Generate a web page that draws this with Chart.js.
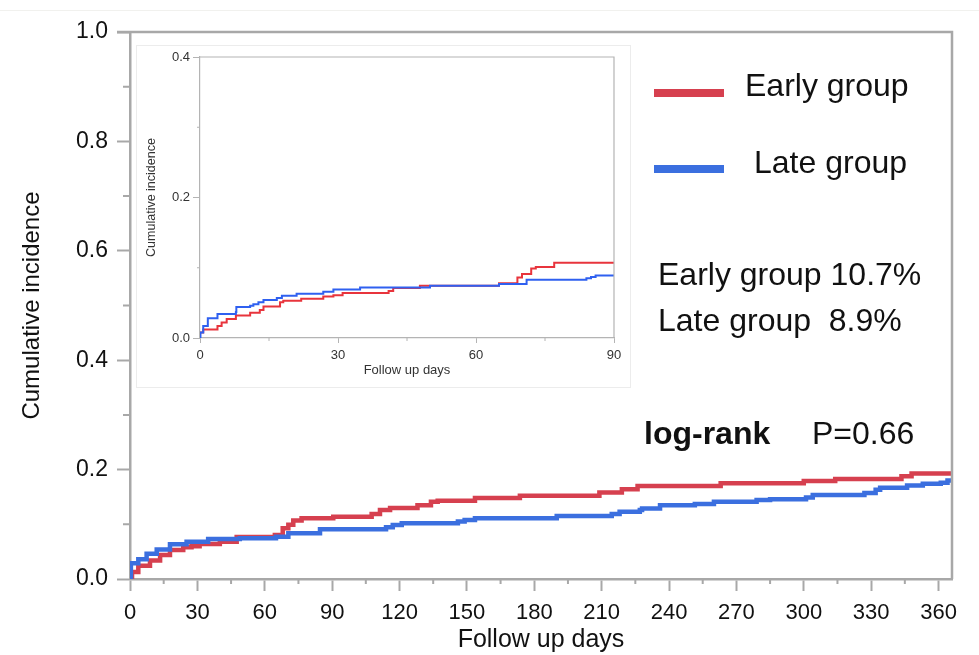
<!DOCTYPE html>
<html>
<head>
<meta charset="utf-8">
<script src="https://cdn.jsdelivr.net/npm/chart.js@4.4.1/dist/chart.umd.min.js"></script>
<style>
  html, body { margin: 0; padding: 0; background: #fff; }
  #wrap { position: relative; width: 979px; height: 655px; }
  #topRule { position: absolute; left: 0; top: 10px; width: 979px; height: 1px; background: #f1f1ee; }
  #mainChart { position: absolute; left: 0; top: 0; }
  #insetBox {
    position: absolute; left: 136px; top: 45px; width: 493px; height: 341px;
    background: #fff; border: 1px solid #ececec;
  }
</style>
</head>
<body>
<div id="wrap">
  <div id="topRule"></div>
  <canvas id="mainChart" width="979" height="655"></canvas>
  <div id="insetBox"><canvas id="insetChart" width="493" height="341"></canvas></div>
</div>
<script>
// Main chart: whole year of follow up
const earlyDays = [0, 0.9, 3.7, 8.9, 13.4, 17.8, 23.7, 27.4, 31, 40, 47.5, 64.5, 68, 70.5, 72.7, 76.4, 90.5, 107.6, 111.3, 115.8, 128, 134, 137, 153.6, 173.6, 209, 219, 226, 263, 300, 314, 343.5, 348, 366];
const earlyIncidence = [0, 0.013, 0.024, 0.034, 0.044, 0.053, 0.058, 0.060, 0.064, 0.068, 0.077, 0.0805, 0.093, 0.099, 0.107, 0.111, 0.114, 0.119, 0.126, 0.130, 0.135, 0.141, 0.143, 0.148, 0.152, 0.158, 0.164, 0.170, 0.175, 0.179, 0.183, 0.188, 0.193, 0.193];
const lateDays = [0, 0.4, 3.7, 7.4, 11.9, 17.8, 25.2, 34.8, 48.9, 65, 70.5, 84.6, 114, 117, 121, 146, 149, 153.6, 190, 214.5, 218, 227, 228, 236, 251.5, 260, 279, 285, 301, 304, 327, 332, 334, 346, 353, 361, 364, 366];
const lateIncidence = [0, 0.029, 0.036, 0.046, 0.054, 0.0635, 0.068, 0.073, 0.0744, 0.0774, 0.0835, 0.091, 0.0945, 0.0988, 0.102, 0.105, 0.108, 0.111, 0.115, 0.119, 0.123, 0.126, 0.129, 0.135, 0.137, 0.141, 0.1445, 0.146, 0.149, 0.1536, 0.157, 0.163, 0.167, 0.171, 0.174, 0.176, 0.180, 0.180];

// Inset: first 90 days
const insetEarlyDays = [0, 0, 0.7, 3.8, 4.7, 5.8, 7.8, 10.9, 13, 13.8, 17.4, 18.1, 22, 26.8, 29, 31, 41, 42, 47.8, 65, 69, 70, 72, 73, 77, 90];
const insetEarlyIncidence = [0, 0.008, 0.012, 0.017, 0.022, 0.027, 0.032, 0.036, 0.040, 0.045, 0.051, 0.053, 0.056, 0.059, 0.061, 0.064, 0.067, 0.071, 0.0745, 0.078, 0.086, 0.091, 0.099, 0.101, 0.107, 0.107];
const insetLateDays = [0, 0.1, 0.7, 1.7, 3.8, 7.8, 7.9, 10.9, 11.6, 12.7, 13.8, 16.7, 17.8, 21, 26.8, 29, 34.8, 50, 65, 71, 84, 85, 86, 90];
const insetLateIncidence = [0, 0.008, 0.017, 0.028, 0.034, 0.037, 0.044, 0.046, 0.048, 0.051, 0.054, 0.057, 0.060, 0.063, 0.066, 0.069, 0.072, 0.0745, 0.077, 0.083, 0.085, 0.087, 0.089, 0.089];

const groupLabels = ['Early group', 'Late group'];
const summaryLines = ['Early group 10.7%', 'Late group  8.9%'];
const testName = 'log-rank';
const pValueText = 'P=0.66';

const FONT = "'Liberation Sans', Arial, Helvetica, sans-serif";
const AXIS_GRAY = '#a8a8a8';

const toPoints = (xs, ys) => xs.map((x, i) => ({ x: x, y: ys[i] }));

// draws the top/right sides of the plot box and the short minor ticks
const framePlugin = {
    id: 'frame',
    afterDraw(chart, args, opts) {
        const { ctx, chartArea: a, scales } = chart;
        ctx.save();
        ctx.strokeStyle = opts.color;
        ctx.lineWidth = opts.width;
        ctx.beginPath();
        ctx.moveTo(a.left - opts.topOverhang, a.top);
        ctx.lineTo(a.right, a.top);
        ctx.lineTo(a.right, a.bottom);
        ctx.stroke();

        ctx.lineWidth = opts.minorWidth;
        ctx.beginPath();
        for (let v = opts.xMinor; v < scales.x.max; v += opts.xMinor * 2) {
            const px = scales.x.getPixelForValue(v);
            ctx.moveTo(px, a.bottom);
            ctx.lineTo(px, a.bottom + opts.xMinorLen);
        }
        for (let v = opts.yMinor; v < scales.y.max; v += opts.yMinor * 2) {
            const py = scales.y.getPixelForValue(v);
            ctx.moveTo(a.left, py);
            ctx.lineTo(a.left - opts.yMinorLen, py);
        }
        ctx.stroke();
        ctx.restore();
    }
};

// legend + numbers written in the empty upper right part of the main plot
const notesPlugin = {
    id: 'notes',
    afterDraw(chart) {
        const ctx = chart.ctx;
        ctx.save();
        ctx.textBaseline = 'alphabetic';
        ctx.fillStyle = '#111';
        const legendRows = [{ y: 93, tx: 745, ty: 96 }, { y: 169, tx: 754, ty: 173 }];
        chart.data.datasets.forEach((ds, i) => {
            const r = legendRows[i];
            ctx.strokeStyle = ds.borderColor;
            ctx.lineWidth = 8;
            ctx.beginPath();
            ctx.moveTo(654, r.y);
            ctx.lineTo(724, r.y);
            ctx.stroke();
            ctx.font = '32px ' + FONT;
            ctx.fillText(ds.label, r.tx, r.ty);
        });
        ctx.font = '32px ' + FONT;
        ctx.fillText(summaryLines[0], 658, 285);
        ctx.fillText(summaryLines[1], 658, 331);
        ctx.font = 'bold 32px ' + FONT;
        ctx.fillText(testName, 644, 444);
        ctx.font = '32px ' + FONT;
        ctx.fillText(pValueText, 812, 444);
        ctx.restore();
    }
};

// labelled ticks only on multiples of the step (minor ones come from the frame plugin)
function axisTicks(step) {
    return function (scale) {
        const ticks = [];
        for (let v = scale.min; v <= scale.max + 1e-9; v += step) {
            ticks.push({ value: Math.round(v * 1000) / 1000 });
        }
        scale.ticks = ticks;
    };
}

new Chart(document.getElementById('mainChart'), {
    type: 'line',
    data: {
        datasets: [
            { label: groupLabels[0], data: toPoints(earlyDays, earlyIncidence), borderColor: '#d6404f', borderWidth: 4.5, pointRadius: 0, stepped: 'before', order: 2 },
            { label: groupLabels[1], data: toPoints(lateDays, lateIncidence), borderColor: '#3b6fdf', borderWidth: 4.5, pointRadius: 0, stepped: 'before', order: 1 }
        ]
    },
    options: {
        responsive: false,
        animation: false,
        layout: { padding: { top: 32, right: 27, left: 0, bottom: 0 } },
        plugins: {
            legend: { display: false },
            tooltip: { enabled: false },
            frame: { color: AXIS_GRAY, width: 2.5, minorWidth: 2, topOverhang: 13, xMinor: 15, xMinorLen: 5, yMinor: 0.1, yMinorLen: 7 }
        },
        scales: {
            x: {
                type: 'linear', min: 0, max: 366,
                afterBuildTicks: axisTicks(30),
                afterFit: s => { s.height = 76; },
                ticks: { stepSize: 30, padding: 9, color: '#111', font: { family: FONT, size: 22 } },
                grid: { drawOnChartArea: false, drawTicks: true, tickLength: 12, tickColor: AXIS_GRAY, tickWidth: 2 },
                border: { color: AXIS_GRAY, width: 2.5 },
                title: { display: true, text: 'Follow up days', color: '#111', font: { family: FONT, size: 25 }, padding: { top: 0, bottom: 0 } }
            },
            y: {
                min: 0, max: 1,
                afterBuildTicks: axisTicks(0.2),
                afterFit: s => { s.width = 130; },
                ticks: { stepSize: 0.2, padding: 9, color: '#111', font: { family: FONT, size: 23 }, callback: v => v.toFixed(1) },
                grid: { drawOnChartArea: false, drawTicks: true, tickLength: 13, tickColor: AXIS_GRAY, tickWidth: 2 },
                border: { color: AXIS_GRAY, width: 2.5 },
                title: { display: true, text: 'Cumulative incidence', color: '#111', font: { family: FONT, size: 24 }, padding: { top: 18, bottom: 0 } }
            }
        }
    },
    plugins: [framePlugin, notesPlugin]
});

const INSET_GRAY = '#b4b4b4';
new Chart(document.getElementById('insetChart'), {
    type: 'line',
    data: {
        datasets: [
            { label: groupLabels[0], data: toPoints(insetEarlyDays, insetEarlyIncidence), borderColor: '#e8343c', borderWidth: 2, pointRadius: 0, stepped: 'before', order: 2 },
            { label: groupLabels[1], data: toPoints(insetLateDays, insetLateIncidence), borderColor: '#2f60f0', borderWidth: 2, pointRadius: 0, stepped: 'before', order: 1 }
        ]
    },
    options: {
        responsive: false,
        animation: false,
        layout: { padding: { top: 11, right: 16, left: 0, bottom: 0 } },
        plugins: {
            legend: { display: false },
            tooltip: { enabled: false },
            frame: { color: INSET_GRAY, width: 1.2, minorWidth: 1, topOverhang: 0, xMinor: 15, xMinorLen: 3, yMinor: 0.1, yMinorLen: 3 }
        },
        scales: {
            x: {
                type: 'linear', min: 0, max: 90,
                afterBuildTicks: axisTicks(30),
                afterFit: s => { s.height = 49; },
                ticks: { stepSize: 30, padding: 5, color: '#333', font: { family: FONT, size: 13 } },
                grid: { drawOnChartArea: false, drawTicks: true, tickLength: 5, tickColor: INSET_GRAY, tickWidth: 1 },
                border: { color: INSET_GRAY, width: 1.2 },
                title: { display: true, text: 'Follow up days', color: '#333', font: { family: FONT, size: 13 }, padding: { top: 0, bottom: 9 } }
            },
            y: {
                min: 0, max: 0.4,
                afterBuildTicks: axisTicks(0.2),
                afterFit: s => { s.width = 63; },
                ticks: { stepSize: 0.2, padding: 3, color: '#333', font: { family: FONT, size: 13 }, callback: v => v.toFixed(1) },
                grid: { drawOnChartArea: false, drawTicks: true, tickLength: 7, tickColor: INSET_GRAY, tickWidth: 1 },
                border: { color: INSET_GRAY, width: 1.2 },
                title: { display: true, text: 'Cumulative incidence', color: '#333', font: { family: FONT, size: 12.5 }, padding: { top: 7, bottom: 0 } }
            }
        }
    },
    plugins: [framePlugin]
});
</script>
</body>
</html>
